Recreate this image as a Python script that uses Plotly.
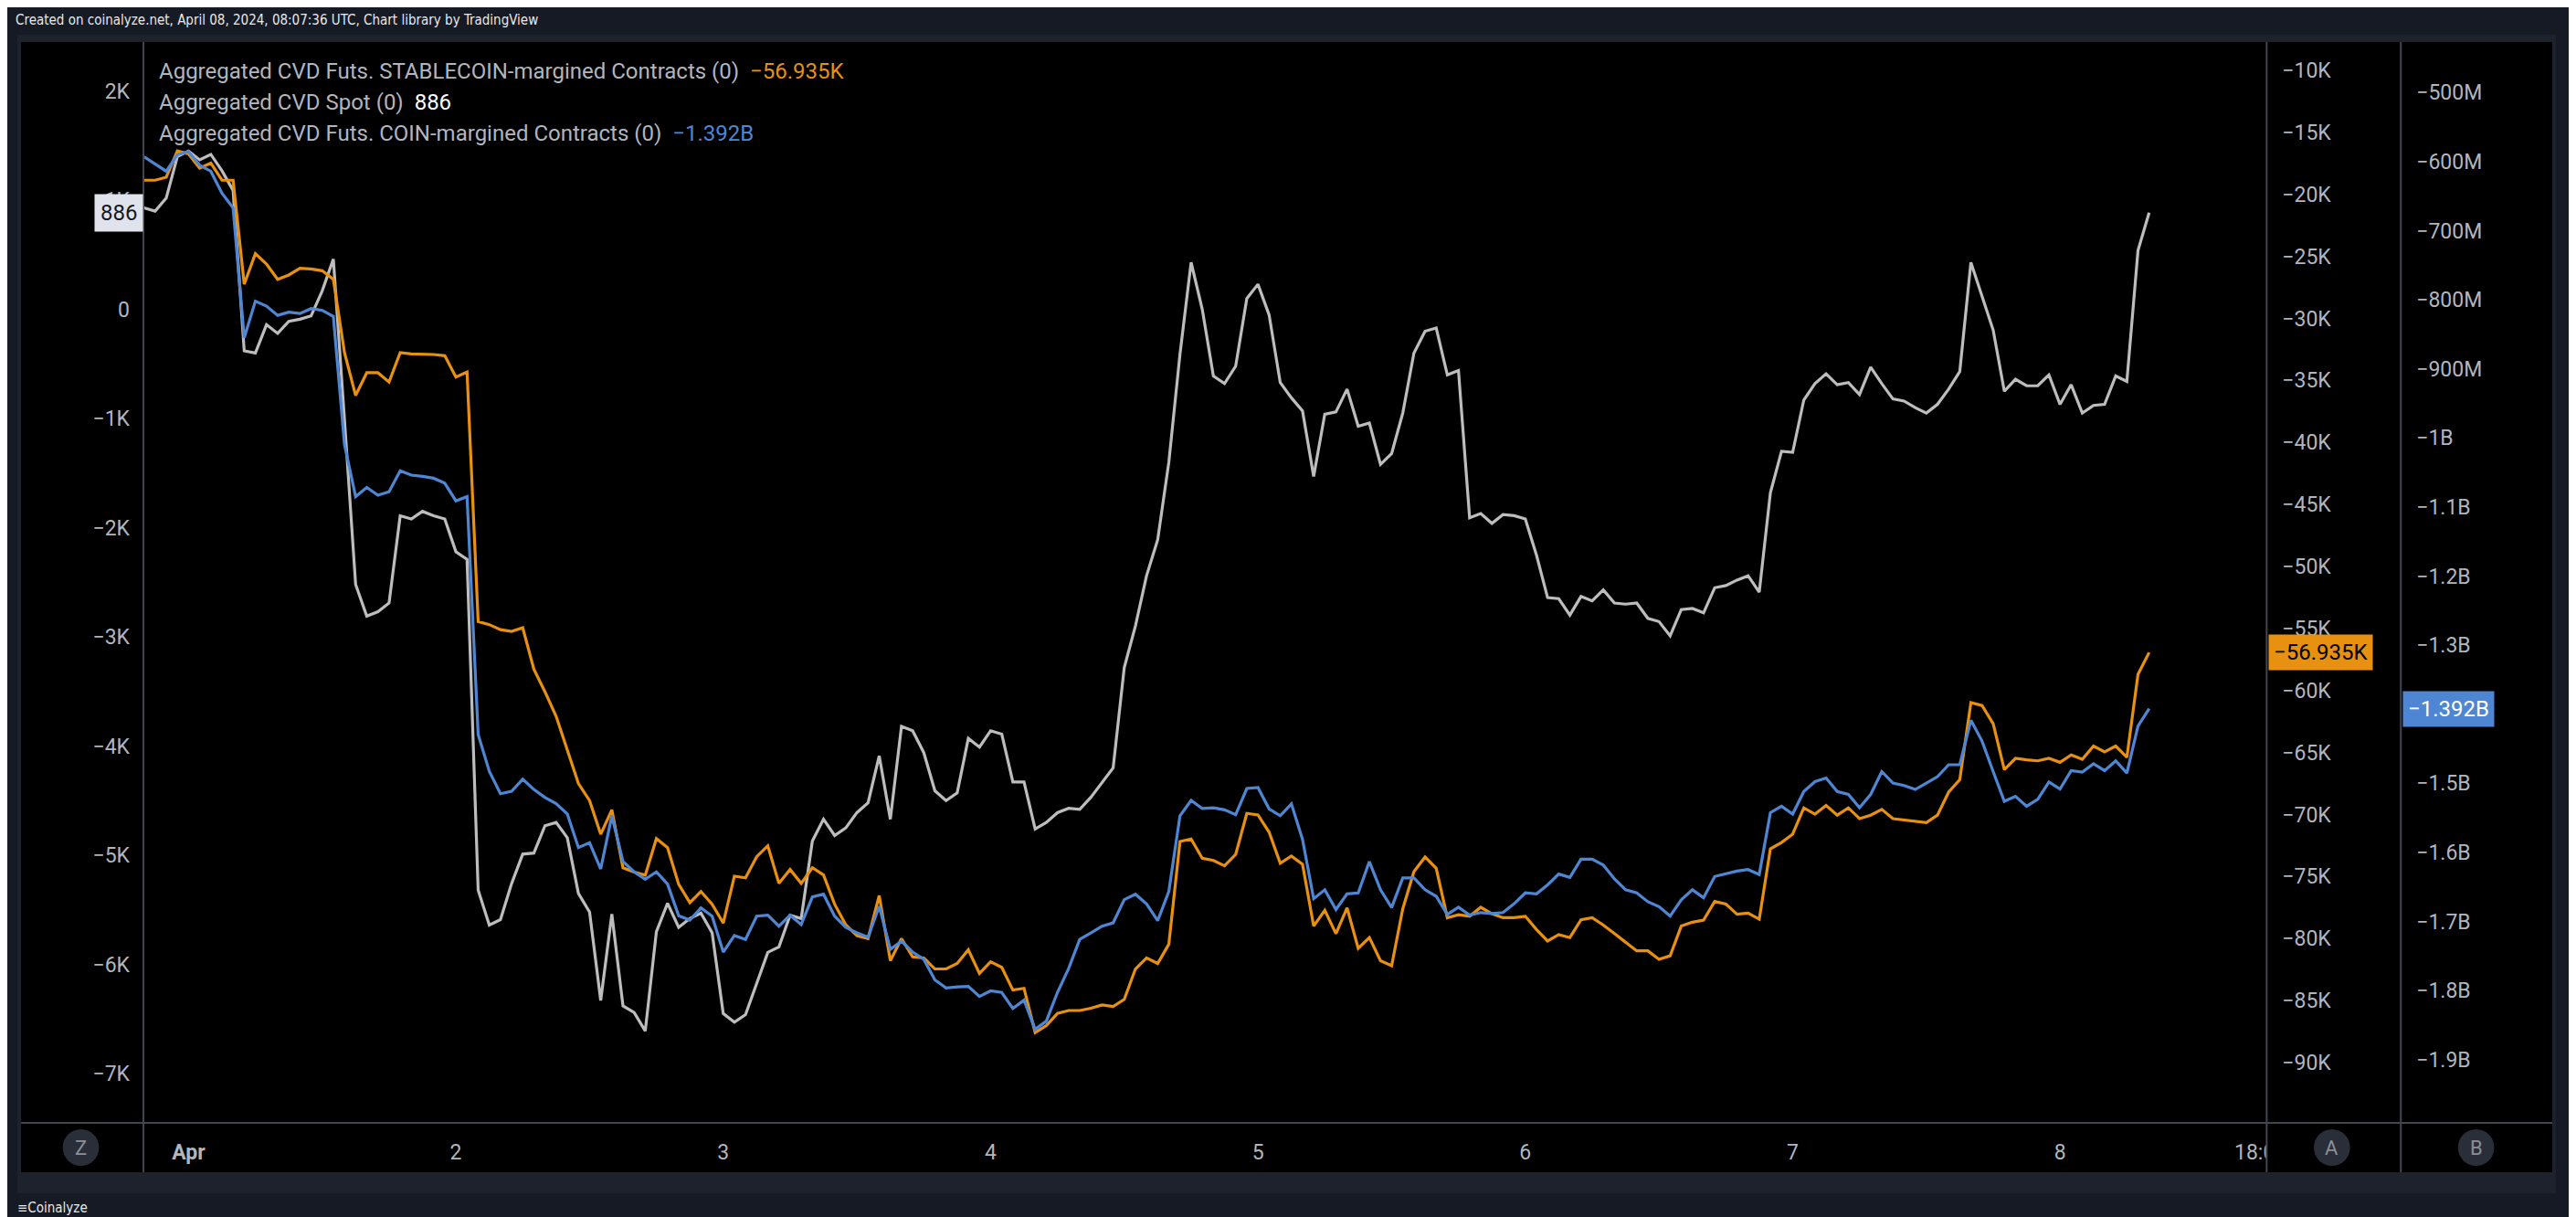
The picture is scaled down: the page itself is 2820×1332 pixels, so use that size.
import pandas as pd
import plotly.graph_objects as go

# hourly closes, 2024-03-31 20:00 UTC .. 2024-04-08 08:00 UTC
start_time = "2024-03-31 20:00"

spot_cvd_k = [
    0.93, 0.90, 1.02, 1.40, 1.45, 1.37, 1.42, 1.27, 1.09, -0.38,
    -0.40, -0.14, -0.22, -0.11, -0.09, -0.06, 0.17, 0.46, -1.01, -2.52,
    -2.81, -2.77, -2.69, -1.89, -1.92, -1.85, -1.89, -1.92, -2.22, -2.29,
    -5.32, -5.64, -5.59, -5.26, -4.99, -4.98, -4.73, -4.70, -4.84, -5.35,
    -5.52, -6.33, -5.54, -6.38, -6.44, -6.61, -5.70, -5.44, -5.66, -5.58,
    -5.53, -5.71, -6.45, -6.53, -6.46, -6.17, -5.89, -5.84, -5.55, -5.58,
    -4.87, -4.67, -4.82, -4.75, -4.61, -4.52, -4.09, -4.67, -3.82, -3.86,
    -4.06, -4.41, -4.50, -4.43, -3.93, -4.01, -3.86, -3.89, -4.33, -4.33,
    -4.76, -4.70, -4.61, -4.57, -4.58, -4.47, -4.34, -4.20, -3.28, -2.90,
    -2.44, -2.11, -1.40, -0.41, 0.43, 0.00, -0.61, -0.68, -0.52, 0.10,
    0.23, -0.05, -0.67, -0.81, -0.93, -1.53, -0.96, -0.94, -0.73, -1.07,
    -1.04, -1.42, -1.32, -0.95, -0.40, -0.20, -0.17, -0.60, -0.56, -1.91,
    -1.87, -1.96, -1.88, -1.89, -1.92, -2.25, -2.64, -2.65, -2.80, -2.63,
    -2.67, -2.57, -2.69, -2.70, -2.69, -2.83, -2.86, -2.99, -2.75, -2.74,
    -2.78, -2.55, -2.53, -2.48, -2.44, -2.59, -1.68, -1.30, -1.31, -0.83,
    -0.68, -0.59, -0.69, -0.67, -0.78, -0.53, -0.68, -0.82, -0.84, -0.90,
    -0.95, -0.87, -0.73, -0.57, 0.43, 0.13, -0.19, -0.75, -0.64, -0.70,
    -0.70, -0.60, -0.87, -0.69, -0.95, -0.88, -0.87, -0.61, -0.66, 0.54,
    0.886,
]

stable_cvd_k = [
    -18.86, -18.86, -18.62, -16.50, -16.74, -17.88, -17.48, -18.86, -18.86, -27.24,
    -24.78, -25.62, -26.85, -26.50, -25.96, -26.01, -26.16, -26.85, -32.76, -36.21,
    -34.38, -34.38, -35.13, -32.76, -32.86, -32.86, -32.91, -33.01, -34.73, -34.33,
    -54.44, -54.69, -55.09, -55.23, -54.94, -58.28, -60.11, -62.08, -64.78, -67.50,
    -68.87, -71.59, -69.62, -74.29, -74.64, -74.89, -71.93, -72.67, -75.63, -77.10,
    -76.21, -77.23, -78.75, -74.97, -75.10, -73.40, -72.52, -75.55, -74.43, -75.55,
    -74.29, -74.87, -77.23, -78.89, -79.77, -80.00, -76.53, -81.79, -80.00, -81.47,
    -81.56, -82.45, -82.45, -82.01, -80.90, -82.81, -81.87, -82.32, -84.15, -84.01,
    -87.58, -87.02, -86.03, -85.80, -85.80, -85.62, -85.35, -85.48, -84.90, -82.45,
    -81.56, -82.01, -80.45, -72.17, -71.97, -73.53, -73.70, -74.13, -73.22, -69.91,
    -70.03, -71.42, -73.93, -73.34, -74.01, -78.99, -77.72, -79.60, -77.52, -80.79,
    -79.92, -81.79, -82.19, -77.60, -74.61, -73.42, -74.33, -78.32, -78.08, -78.20,
    -77.48, -78.00, -78.32, -78.32, -78.20, -79.27, -80.20, -79.68, -79.92, -78.48,
    -78.32, -78.91, -79.60, -80.32, -80.99, -80.99, -81.67, -81.39, -78.99, -78.68,
    -78.52, -77.01, -77.21, -78.04, -77.95, -78.44, -72.77, -72.25, -71.58, -69.46,
    -69.97, -69.26, -70.05, -69.46, -70.33, -70.05, -69.58, -70.33, -70.45, -70.57,
    -70.65, -70.05, -68.19, -67.19, -60.97, -61.21, -62.68, -66.38, -65.47, -65.59,
    -65.67, -65.47, -65.79, -65.19, -65.55, -64.48, -64.95, -64.48, -65.39, -58.69,
    -56.935,
]

coin_cvd_m = [
    -592.9, -603.3, -614.0, -590.0, -585.7, -605.2, -614.0, -645.8, -667.0, -855.1,
    -802.1, -809.3, -822.6, -818.0, -819.9, -812.8, -815.4, -824.2, -1009.7, -1085.0,
    -1071.7, -1083.1, -1077.9, -1047.7, -1053.9, -1055.8, -1058.4, -1065.6, -1091.2, -1085.0,
    -1429.5, -1482.7, -1515.2, -1511.6, -1494.1, -1509.0, -1520.7, -1529.5, -1544.4, -1593.1,
    -1586.0, -1624.0, -1547.0, -1613.3, -1628.3, -1638.9, -1628.3, -1646.0, -1691.9, -1698.1,
    -1680.5, -1692.4, -1744.4, -1720.4, -1726.1, -1692.4, -1691.0, -1706.9, -1691.0, -1704.5,
    -1664.6, -1660.6, -1692.4, -1708.6, -1716.6, -1722.8, -1678.1, -1740.4, -1728.5, -1744.4,
    -1754.9, -1784.6, -1796.4, -1794.8, -1794.1, -1808.6, -1800.5, -1802.9, -1826.1, -1814.0,
    -1856.3, -1844.4, -1802.9, -1768.4, -1726.1, -1716.6, -1706.9, -1702.1, -1668.4, -1660.6,
    -1674.8, -1698.8, -1656.5, -1547.0, -1524.7, -1536.6, -1535.6, -1538.5, -1545.6, -1507.6,
    -1506.2, -1537.1, -1547.0, -1529.9, -1581.2, -1667.2, -1654.2, -1682.9, -1660.1, -1658.7,
    -1613.5, -1654.2, -1680.0, -1637.1, -1637.1, -1654.2, -1663.7, -1690.0, -1679.3, -1690.7,
    -1687.2, -1688.6, -1687.2, -1674.3, -1658.7, -1660.1, -1647.1, -1631.4, -1636.3, -1610.0,
    -1610.0, -1618.5, -1638.5, -1654.2, -1658.7, -1671.5, -1678.6, -1692.2, -1668.6, -1654.2,
    -1665.8, -1634.9, -1631.4, -1627.1, -1624.9, -1632.1, -1542.5, -1533.3, -1544.7, -1511.9,
    -1497.6, -1492.4, -1511.9, -1516.2, -1535.4, -1516.2, -1483.1, -1499.8, -1503.3, -1509.0,
    -1499.8, -1490.5, -1473.2, -1473.2, -1408.8, -1438.9, -1483.1, -1526.1, -1519.0, -1533.3,
    -1523.3, -1498.3, -1508.3, -1481.7, -1483.8, -1471.7, -1481.7, -1467.5, -1485.3, -1417.3,
    -1392.0,
]

x_tickvals = ["2024-04-01", "2024-04-02", "2024-04-03", "2024-04-04", "2024-04-05",
              "2024-04-06", "2024-04-07", "2024-04-08", "2024-04-08 18:00"]
x_ticktext = ["<b>Apr</b>", "2", "3", "4", "5", "6", "7", "8", "18:00"]

spot_ticks = [2, 1, 0, -1, -2, -3, -4, -5, -6, -7]
spot_ticktext = ["2K", "1K", "0", "−1K", "−2K", "−3K", "−4K", "−5K", "−6K", "−7K"]

stable_ticks = list(range(-10, -95, -5))
stable_ticktext = [f"−{-v}K" for v in stable_ticks]

coin_ticks = list(range(-500, -2000, -100))
coin_ticktext = ["−500M", "−600M", "−700M", "−800M", "−900M", "−1B", "−1.1B", "−1.2B",
                 "−1.3B", "−1.4B", "−1.5B", "−1.6B", "−1.7B", "−1.8B", "−1.9B"]

times = pd.date_range(start_time, periods=len(spot_cvd_k), freq="h")

W, H = 2820, 1332
ML, MR, MT, MB = 149, 14, 38, 111
PW, PH = W - ML - MR, H - MT - MB


def px(x):
    return (x - ML) / PW


def py(y):
    return (H - MB - y) / PH


ORANGE = "#e8900f"
BLUE = "#4f86d4"
GREY = "#bdbdbf"
AXIS_TXT = "#b2b5be"
LINE = "#434651"
FONT = "Roboto"
NARROW = "DejaVu Sans Condensed, Liberation Sans Narrow, Roboto"

fig = go.Figure()
fig.add_trace(go.Scatter(x=times, y=spot_cvd_k, yaxis="y", mode="lines",
                         line=dict(color=GREY, width=3.2)))
fig.add_trace(go.Scatter(x=times, y=coin_cvd_m, yaxis="y3", mode="lines",
                         line=dict(color=BLUE, width=3.2)))
fig.add_trace(go.Scatter(x=times, y=stable_cvd_k, yaxis="y2", mode="lines",
                         line=dict(color=ORANGE, width=3.2)))

tickfont = dict(family=FONT, size=23, color=AXIS_TXT)
fig.update_layout(
    width=W, height=H, showlegend=False, hovermode=False,
    margin=dict(l=ML, r=MR, t=MT, b=MB),
    paper_bgcolor="#161a25", plot_bgcolor="#000000",
    xaxis=dict(domain=[0, px(2491)], range=["2024-03-31 19:57", "2024-04-08 18:33"],
               tickvals=x_tickvals, ticktext=x_ticktext, tickfont=tickfont,
               showgrid=False, zeroline=False, ticks="", ticklabelstandoff=16),
    yaxis=dict(range=[-7.452, 2.449], tickvals=spot_ticks, ticktext=spot_ticktext,
               tickfont=tickfont, showgrid=False, zeroline=False, ticks="",
               ticklabelstandoff=14),
    yaxis2=dict(range=[-94.86, -7.72], tickvals=stable_ticks, ticktext=stable_ticktext,
                overlaying="y", side="right", anchor="free", position=px(2491),
                tickfont=tickfont, showgrid=False, zeroline=False, ticks="",
                ticklabelstandoff=16),
    yaxis3=dict(range=[-1991.7, -426.9], tickvals=coin_ticks, ticktext=coin_ticktext,
                overlaying="y", side="right", anchor="free", position=px(2639),
                tickfont=tickfont, showgrid=False, zeroline=False, ticks="",
                ticklabelstandoff=16),
)

shapes = [
    # chart frame
    dict(type="rect", xref="paper", yref="paper", x0=px(10), x1=px(2810), y0=py(1298), y1=py(30),
         fillcolor="#1e222d", line_width=0, layer="below"),
    dict(type="rect", xref="paper", yref="paper", x0=px(14), x1=px(2806), y0=py(1275), y1=py(38),
         fillcolor="#000000", line_width=0, layer="below"),
    # cover for clipped time label under the price scales
    dict(type="rect", xref="paper", yref="paper", x0=px(2491), x1=px(2806), y0=py(1275), y1=py(1221),
         fillcolor="#000000", line_width=0, layer="above"),
]
for x in (149, 2491, 2639):
    shapes.append(dict(type="line", xref="paper", yref="paper", x0=px(x), x1=px(x),
                       y0=py(1275), y1=py(38), line=dict(color=LINE, width=2), layer="above"))
shapes.append(dict(type="line", xref="paper", yref="paper", x0=px(14), x1=px(2806),
                   y0=py(1221), y1=py(1221), line=dict(color=LINE, width=2), layer="above"))
for cx in (80, 2563, 2722):
    shapes.append(dict(type="circle", xref="paper", yref="paper", x0=px(cx - 20), x1=px(cx + 20),
                       y0=py(1268), y1=py(1228), fillcolor="#2a2e39", line_width=0, layer="above"))
fig.update_layout(shapes=shapes)

ann = [
    dict(x=px(6), y=py(14), text="Created on coinalyze.net, April 08, 2024, 08:07:36 UTC, Chart library by TradingView",
         font=dict(family=NARROW, size=15, color="#e8e8e8")),
    dict(x=px(8), y=py(1314), text="≡Coinalyze",
         font=dict(family=NARROW, size=15, color="#e8e8e8")),
    dict(x=px(164), y=py(70),
         text=f"Aggregated CVD Futs. STABLECOIN-margined Contracts (0)  "
              f"<span style='color:{ORANGE}'>−{-stable_cvd_k[-1]:.3f}K</span>",
         font=dict(family=FONT, size=24, color=AXIS_TXT)),
    dict(x=px(164), y=py(104),
         text=f"Aggregated CVD Spot (0)  <span style='color:#ffffff'>{spot_cvd_k[-1] * 1000:.0f}</span>",
         font=dict(family=FONT, size=24, color=AXIS_TXT)),
    dict(x=px(164), y=py(138),
         text=f"Aggregated CVD Futs. COIN-margined Contracts (0)  "
              f"<span style='color:{BLUE}'>−{-coin_cvd_m[-1] / 1000:.3f}B</span>",
         font=dict(family=FONT, size=24, color=AXIS_TXT)),
]
for a in ann:
    a.update(xref="paper", yref="paper", xanchor="left", yanchor="middle", showarrow=False)

# last-value labels on the price scales
ann += [
    dict(xref="paper", yref="y", x=px(149), y=spot_cvd_k[-1], xanchor="right", yanchor="middle",
         text=f"{spot_cvd_k[-1] * 1000:.0f}", showarrow=False, bgcolor="#e0e3eb", borderpad=6,
         font=dict(family=FONT, size=24, color="#131722")),
    dict(xref="paper", yref="y2", x=px(2493), y=stable_cvd_k[-1], xanchor="left", yanchor="middle",
         text=f"−{-stable_cvd_k[-1]:.3f}K", showarrow=False, bgcolor=ORANGE, borderpad=5,
         font=dict(family=FONT, size=24, color="#000000")),
    dict(xref="paper", yref="y3", x=px(2641), y=coin_cvd_m[-1], xanchor="left", yanchor="middle",
         text=f"−{-coin_cvd_m[-1] / 1000:.3f}B", showarrow=False, bgcolor=BLUE, borderpad=5,
         font=dict(family=FONT, size=24, color="#ffffff")),
]
for letter, cx in (("Z", 80), ("A", 2563), ("B", 2722)):
    ann.append(dict(xref="paper", yref="paper", x=px(cx), y=py(1248), text=letter, showarrow=False,
                    xanchor="center", yanchor="middle",
                    font=dict(family=FONT, size=22, color="#8b8e97")))
fig.update_layout(annotations=ann)

fig.write_html("out.html")
